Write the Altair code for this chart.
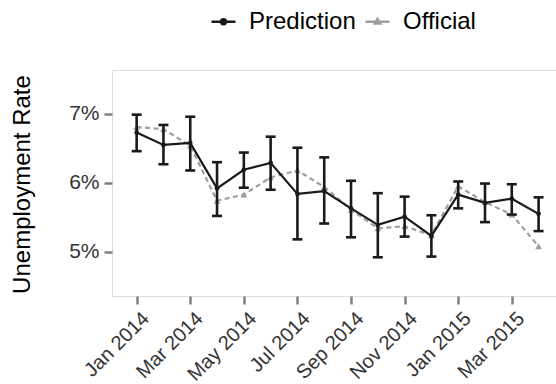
import json
import altair as alt
import pandas as pd

months = ["Jan 2014", "Feb 2014", "Mar 2014", "Apr 2014", "May 2014", "Jun 2014",
          "Jul 2014", "Aug 2014", "Sep 2014", "Oct 2014", "Nov 2014", "Dec 2014",
          "Jan 2015", "Feb 2015", "Mar 2015", "Apr 2015"]
prediction = [6.73, 6.55, 6.58, 5.92, 6.19, 6.29, 5.84, 5.88, 5.63, 5.39, 5.51, 5.23,
              5.83, 5.71, 5.77, 5.55]
pred_lower = [6.46, 6.27, 6.18, 5.52, 5.93, 5.90, 5.18, 5.41, 5.21, 4.92, 5.22, 4.93,
              5.63, 5.43, 5.54, 5.30]
pred_upper = [6.99, 6.84, 6.96, 6.30, 6.44, 6.67, 6.51, 6.37, 6.03, 5.85, 5.80, 5.53,
              6.02, 5.99, 5.98, 5.79]
official = [6.81, 6.78, 6.54, 5.74, 5.83, 6.08, 6.18, 5.94, 5.61, 5.34, 5.37, 5.24,
            5.95, 5.72, 5.54, 5.08]
series_names = ["Prediction", "Official"]
series_colors = ["#1a1a1a", "#9e9e9e"]
y_ticks = [5, 6, 7]
x_ticks = [0, 2, 4, 6, 8, 10, 12, 14]

FONT = "Liberation Sans"

idx = list(range(len(months)))
pred_df = pd.DataFrame({"i": idx, "month": months, "value": prediction,
                        "lo": pred_lower, "hi": pred_upper, "series": "Prediction"})
off_df = pd.DataFrame({"i": idx, "month": months, "value": official, "series": "Official"})
both_df = pd.concat([pred_df[["i", "month", "value", "series"]], off_df], ignore_index=True)

xscale = alt.Scale(domain=[-0.92, 15.65], nice=False, zero=False)
yscale = alt.Scale(domain=[4.358, 7.638], nice=False, zero=False)

label_expr = json.dumps(months) + "[datum.value]"

x_enc = alt.X("i:Q", scale=xscale, title=None,
              axis=alt.Axis(values=x_ticks, labelExpr=label_expr, labelAngle=-45,
                            labelAlign="right", labelBaseline="top", labelPadding=4,
                            labelOffset=2,
                            tickSize=8, tickWidth=2.5, tickColor="#808080",
                            labelFontSize=20, labelColor="#333333", labelFont=FONT,
                            domain=False, grid=False, labelOverlap=False,
                            labelBound=False, labelFlush=False))
y_enc = alt.Y("value:Q", scale=yscale,
              axis=alt.Axis(values=y_ticks, labelExpr="datum.value + '%'",
                            tickSize=8, tickWidth=2.5, tickColor="#808080",
                            labelFontSize=21, labelColor="#333333", labelFont=FONT,
                            labelPadding=5, domain=False, grid=False,
                            title="Unemployment Rate", titleFont=FONT, titleFontSize=24,
                            titleFontWeight="normal", titleColor="#000000",
                            titleAngle=-90, titleX=-83, titleY=114,
                            titleAlign="center", titleBaseline="alphabetic"))

off_line = alt.Chart(off_df).mark_line(color=series_colors[1], strokeWidth=2.2,
                                       strokeDash=[5, 3.5]).encode(x=x_enc, y=y_enc)
off_pts = alt.Chart(off_df).mark_point(shape="triangle-up", filled=True, size=45,
                                       color=series_colors[1], opacity=1).encode(x=x_enc, y="value:Q")

err_rule = alt.Chart(pred_df).mark_rule(color=series_colors[0], strokeWidth=2.6).encode(
    x="i:Q", y="lo:Q", y2="hi:Q")
cap_lo = alt.Chart(pred_df).mark_rule(color=series_colors[0], strokeWidth=2.6,
                                      xOffset=-5, x2Offset=5).encode(x="i:Q", x2="i:Q", y="lo:Q")
cap_hi = alt.Chart(pred_df).mark_rule(color=series_colors[0], strokeWidth=2.6,
                                      xOffset=-5, x2Offset=5).encode(x="i:Q", x2="i:Q", y="hi:Q")

pred_line = alt.Chart(pred_df).mark_line(color=series_colors[0], strokeWidth=2.2).encode(
    x="i:Q", y="value:Q")
pred_pts = alt.Chart(pred_df).mark_point(shape="circle", filled=True, size=22,
                                         color=series_colors[0], opacity=1).encode(x="i:Q", y="value:Q")

# legend carrier (invisible marks, visible legend symbols)
shape_paths = [
    "M-1,0L1,0M0.2,0A0.2,0.2 0 1,1 -0.2,0A0.2,0.2 0 1,1 0.2,0Z",
    "M-1,0L1,0M0,-0.24L0.22,0.14L-0.22,0.14Z",
]
legend_props = dict(title=None, orient="none", direction="horizontal",
                    legendX=98, legendY=-62, symbolSize=576,
                    symbolStrokeWidth=2.5, symbolOpacity=1,
                    labelFont=FONT, labelFontSize=24, labelColor="#000000",
                    labelOffset=12, columnPadding=4)
legend_layer = alt.Chart(both_df).mark_point(filled=False, opacity=0, strokeWidth=2.5).encode(
    x="i:Q", y="value:Q",
    color=alt.Color("series:N", scale=alt.Scale(domain=series_names, range=series_colors),
                    legend=alt.Legend(**legend_props)),
    shape=alt.Shape("series:N", scale=alt.Scale(domain=series_names, range=shape_paths),
                    legend=alt.Legend(**legend_props)),
)

chart = alt.layer(legend_layer, off_line, off_pts, err_rule, cap_lo, cap_hi, pred_line, pred_pts).properties(
    width=444, height=226,
    autosize=alt.AutoSizeParams(type="none"),
    padding={"left": 112, "top": 70, "right": 0, "bottom": 88},
).configure_view(stroke="#8c8c8c", strokeWidth=1.5).configure(background="white")

chart.save("out.html", embed_options={"renderer": "svg", "actions": False})
